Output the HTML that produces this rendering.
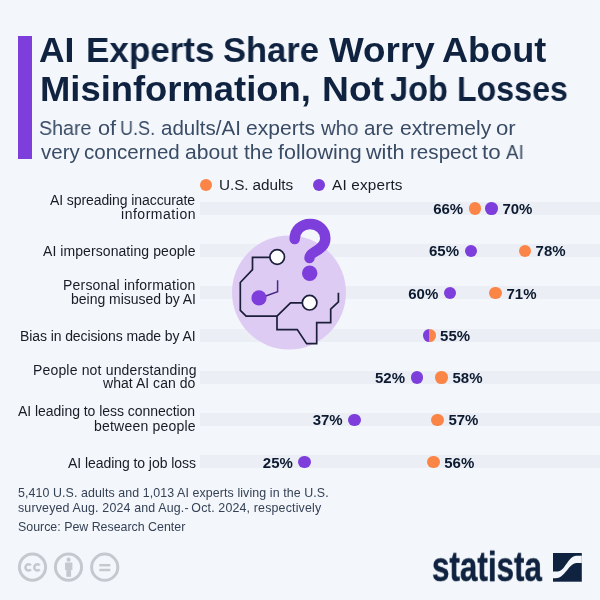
<!DOCTYPE html>
<html><head><meta charset="utf-8">
<style>
html,body{margin:0;padding:0;}
body{width:600px;height:600px;background:#f3f6fa;position:relative;overflow:hidden;font-family:"Liberation Sans",sans-serif;}
.a{position:absolute;white-space:nowrap;will-change:transform;}
.dot{position:absolute;width:12.6px;height:12.6px;border-radius:50%;}
.o{background:#fb8547;} .p{background:#7d3edb;}
.band{position:absolute;left:200px;width:400px;height:13px;background:#ebeff5;}
.v{position:absolute;font-weight:bold;font-size:15px;line-height:15px;letter-spacing:0px;color:#0c1a30;white-space:nowrap;}
</style></head><body>
<div class="a" style="left:18px;top:36px;width:14px;height:123px;background:#7d3edb"></div>
<div class="a" id="t1a" style="left:38.70px;top:31.92px;font-size:35.3px;line-height:35.3px;font-weight:bold;color:#0f2340;letter-spacing:0.000px;transform:scaleX(1.0036);transform-origin:0 0;">AI</div>
<div class="a" id="t1b" style="left:85.52px;top:31.92px;font-size:35.3px;line-height:35.3px;font-weight:bold;color:#0f2340;letter-spacing:0.000px;transform:scaleX(0.9929);transform-origin:0 0;">Experts</div>
<div class="a" id="t1c" style="left:223.38px;top:31.92px;font-size:35.3px;line-height:35.3px;font-weight:bold;color:#0f2340;letter-spacing:0.000px;transform:scaleX(0.9780);transform-origin:0 0;">Share</div>
<div class="a" id="t1d" style="left:328.79px;top:31.92px;font-size:35.3px;line-height:35.3px;font-weight:bold;color:#0f2340;letter-spacing:0.000px;transform:scaleX(1.0429);transform-origin:0 0;">Worry</div>
<div class="a" id="t1e" style="left:441.50px;top:31.92px;font-size:35.3px;line-height:35.3px;font-weight:bold;color:#0f2340;letter-spacing:0.000px;transform:scaleX(1.0235);transform-origin:0 0;">About</div>
<div class="a" id="t2a" style="left:40.13px;top:71.12px;font-size:35.3px;line-height:35.3px;font-weight:bold;color:#0f2340;letter-spacing:0.000px;transform:scaleX(1.0308);transform-origin:0 0;">Misinformation,</div>
<div class="a" id="t2b" style="left:321.75px;top:71.12px;font-size:35.3px;line-height:35.3px;font-weight:bold;color:#0f2340;letter-spacing:0.000px;transform:scaleX(1.0545);transform-origin:0 0;">Not</div>
<div class="a" id="t2c" style="left:389.61px;top:71.12px;font-size:35.3px;line-height:35.3px;font-weight:bold;color:#0f2340;letter-spacing:0.000px;transform:scaleX(0.9209);transform-origin:0 0;">Job</div>
<div class="a" id="t2d" style="left:457.10px;top:71.12px;font-size:35.3px;line-height:35.3px;font-weight:bold;color:#0f2340;letter-spacing:0.000px;transform:scaleX(0.9112);transform-origin:0 0;">Losses</div>
<div class="a" id="s10" style="left:39.37px;top:117.85px;font-size:20.5px;line-height:20.5px;color:#394b65;letter-spacing:0.000px;transform:scaleX(0.9582);transform-origin:0 0;">Share</div>
<div class="a" id="s11" style="left:97.50px;top:117.85px;font-size:20.5px;line-height:20.5px;color:#394b65;letter-spacing:0.000px;transform:scaleX(1.0605);transform-origin:0 0;">of</div>
<div class="a" id="s12" style="left:120.17px;top:117.85px;font-size:20.5px;line-height:20.5px;color:#394b65;letter-spacing:0.000px;transform:scaleX(0.8803);transform-origin:0 0;">U.S.</div>
<div class="a" id="s13" style="left:160.78px;top:117.85px;font-size:20.5px;line-height:20.5px;color:#394b65;letter-spacing:0.000px;transform:scaleX(1.0014);transform-origin:0 0;">adults/AI</div>
<div class="a" id="s14" style="left:245.80px;top:117.85px;font-size:20.5px;line-height:20.5px;color:#394b65;letter-spacing:0.000px;transform:scaleX(1.0277);transform-origin:0 0;">experts</div>
<div class="a" id="s15" style="left:320.68px;top:117.85px;font-size:20.5px;line-height:20.5px;color:#394b65;letter-spacing:0.000px;transform:scaleX(0.9921);transform-origin:0 0;">who</div>
<div class="a" id="s16" style="left:364.48px;top:117.85px;font-size:20.5px;line-height:20.5px;color:#394b65;letter-spacing:0.000px;transform:scaleX(1.0061);transform-origin:0 0;">are</div>
<div class="a" id="s17" style="left:399.61px;top:117.85px;font-size:20.5px;line-height:20.5px;color:#394b65;letter-spacing:0.000px;transform:scaleX(1.0260);transform-origin:0 0;">extremely</div>
<div class="a" id="s18" style="left:495.77px;top:117.85px;font-size:20.5px;line-height:20.5px;color:#394b65;letter-spacing:0.000px;transform:scaleX(1.0808);transform-origin:0 0;">or</div>
<div class="a" id="s20" style="left:40.69px;top:142.15px;font-size:20.5px;line-height:20.5px;color:#394b65;letter-spacing:0.000px;transform:scaleX(0.9882);transform-origin:0 0;">very</div>
<div class="a" id="s21" style="left:83.77px;top:142.15px;font-size:20.5px;line-height:20.5px;color:#394b65;letter-spacing:0.000px;transform:scaleX(0.9965);transform-origin:0 0;">concerned</div>
<div class="a" id="s22" style="left:184.73px;top:142.15px;font-size:20.5px;line-height:20.5px;color:#394b65;letter-spacing:0.000px;transform:scaleX(1.0279);transform-origin:0 0;">about</div>
<div class="a" id="s23" style="left:243.80px;top:142.15px;font-size:20.5px;line-height:20.5px;color:#394b65;letter-spacing:0.000px;transform:scaleX(1.0181);transform-origin:0 0;">the</div>
<div class="a" id="s24" style="left:277.63px;top:142.15px;font-size:20.5px;line-height:20.5px;color:#394b65;letter-spacing:0.000px;transform:scaleX(1.0493);transform-origin:0 0;">following</div>
<div class="a" id="s25" style="left:365.61px;top:142.15px;font-size:20.5px;line-height:20.5px;color:#394b65;letter-spacing:0.000px;transform:scaleX(1.0552);transform-origin:0 0;">with</div>
<div class="a" id="s26" style="left:409.60px;top:142.15px;font-size:20.5px;line-height:20.5px;color:#394b65;letter-spacing:0.000px;transform:scaleX(1.0052);transform-origin:0 0;">respect</div>
<div class="a" id="s27" style="left:482.23px;top:142.15px;font-size:20.5px;line-height:20.5px;color:#394b65;letter-spacing:0.000px;transform:scaleX(1.0904);transform-origin:0 0;">to</div>
<div class="a" id="s28" style="left:506.29px;top:142.15px;font-size:20.5px;line-height:20.5px;color:#394b65;letter-spacing:0.000px;transform:scaleX(0.9146);transform-origin:0 0;">AI</div>
<div class="a" id="leg1" style="left:219.25px;top:177.05px;font-size:15.3px;line-height:15.3px;color:#171c27;letter-spacing:-0.079px;">U.S. adults</div>
<div class="a" id="leg2" style="left:331.88px;top:177.05px;font-size:15.3px;line-height:15.3px;color:#171c27;letter-spacing:0.180px;">AI experts</div>
<div class="a" id="l1a" style="left:50.42px;top:193.15px;font-size:14px;line-height:14px;color:#171c27;letter-spacing:-0.091px;">AI spreading inaccurate</div>
<div class="a" id="l1b" style="left:121.18px;top:207.15px;font-size:14px;line-height:14px;color:#171c27;letter-spacing:0.527px;">information</div>
<div class="a" id="l2" style="left:42.58px;top:243.95px;font-size:14px;line-height:14px;color:#171c27;letter-spacing:0.073px;">AI impersonating people</div>
<div class="a" id="l3a" style="left:63.37px;top:278.15px;font-size:14px;line-height:14px;color:#171c27;letter-spacing:0.203px;">Personal information</div>
<div class="a" id="l3b" style="left:70.83px;top:292.05px;font-size:14px;line-height:14px;color:#171c27;letter-spacing:-0.017px;">being misused by AI</div>
<div class="a" id="l4" style="left:19.87px;top:328.55px;font-size:14px;line-height:14px;color:#171c27;letter-spacing:-0.098px;">Bias in decisions made by AI</div>
<div class="a" id="l5a" style="left:32.85px;top:362.75px;font-size:14px;line-height:14px;color:#171c27;letter-spacing:0.169px;">People not understanding</div>
<div class="a" id="l5b" style="left:103.21px;top:376.35px;font-size:14px;line-height:14px;color:#171c27;letter-spacing:0.039px;">what AI can do</div>
<div class="a" id="l6a" style="left:18.24px;top:404.25px;font-size:14px;line-height:14px;color:#171c27;letter-spacing:-0.039px;">AI leading to less connection</div>
<div class="a" id="l6b" style="left:93.99px;top:418.55px;font-size:14px;line-height:14px;color:#171c27;letter-spacing:0.211px;">between people</div>
<div class="a" id="l7" style="left:67.58px;top:455.55px;font-size:14px;line-height:14px;color:#171c27;letter-spacing:-0.062px;">AI leading to job loss</div>
<div class="a" id="f1" style="left:18.02px;top:487.00px;font-size:12.4px;line-height:12.4px;color:#354256;letter-spacing:0.098px;">5,410 U.S. adults and 1,013 AI experts living in the U.S.</div>
<div class="a" id="f2" style="left:17.99px;top:501.70px;font-size:12.4px;line-height:12.4px;color:#354256;letter-spacing:0.168px;">surveyed Aug. 2024 and Aug.- Oct. 2024, respectively</div>
<div class="a" id="f3" style="left:17.54px;top:520.70px;font-size:12.4px;line-height:12.4px;color:#354256;letter-spacing:-0.002px;">Source: Pew Research Center</div>
<div class="dot o" style="left:199.80px;top:178.70px"></div>
<div class="dot p" style="left:312.60px;top:178.70px"></div>
<div class="band" style="top:201.75px"></div>
<div class="band" style="top:244.00px"></div>
<div class="band" style="top:286.25px"></div>
<div class="band" style="top:328.50px"></div>
<div class="band" style="top:370.75px"></div>
<div class="band" style="top:413.00px"></div>
<div class="band" style="top:455.25px"></div>
<svg class="a" style="left:0;top:0" width="600" height="600" viewBox="0 0 600 600">
<circle cx="289" cy="292.5" r="57" fill="#ddcbf4"/>
<g fill="none" stroke="#1b1f3a" stroke-width="1.7" stroke-linejoin="miter">
<path d="M270 257.4 H252.5 V269.7 L240.3 282.5 V310.3 L246.1 316.2 H277 V329.6 H297.3 L306.6 343.6 H316.7 V322.6 H330.7 V309.2 L338.4 301.9 V292.8"/>
<path d="M277 316.2 L290.5 302.8 H302"/>
</g>
<path d="M277.6 280.2 V291.7 L263 297" fill="none" stroke="#4a2a86" stroke-width="1.5"/>
<circle cx="277.2" cy="257" r="7.3" fill="#fff" stroke="#1b1f3a" stroke-width="1.7"/>
<circle cx="309.6" cy="302.7" r="7.3" fill="#fff" stroke="#1b1f3a" stroke-width="1.7"/>
<circle cx="259" cy="297.9" r="7.6" fill="#7d3edb"/>
<path d="M294.7 239 C294.7 230 301.5 224 310 224 C318.5 224 325.3 230 325.3 238.5 C325.3 246 319 249.5 314.5 252 C311 254 309.5 255.5 309.5 258" fill="none" stroke="#7d3edb" stroke-width="10.5" stroke-linecap="round"/>
<circle cx="309.7" cy="273.3" r="7.7" fill="#7d3edb"/>
</svg>
<div class="dot o" style="left:468.66px;top:202.25px"></div>
<div class="dot p" style="left:485.28px;top:202.25px"></div>
<div class="v" style="right:136.84px;top:201.15px;text-align:right">66%</div>
<div class="v" style="left:502.38px;top:201.15px">70%</div>
<div class="dot p" style="left:464.51px;top:244.50px"></div>
<div class="dot o" style="left:518.51px;top:244.50px"></div>
<div class="v" style="right:140.99px;top:243.40px;text-align:right">65%</div>
<div class="v" style="left:535.61px;top:243.40px">78%</div>
<div class="dot p" style="left:443.74px;top:286.75px"></div>
<div class="dot o" style="left:489.43px;top:286.75px"></div>
<div class="v" style="right:161.76px;top:285.65px;text-align:right">60%</div>
<div class="v" style="left:506.53px;top:285.65px">71%</div>
<div class="dot" style="left:422.97px;top:329.00px;background:linear-gradient(90deg,#7d3edb 50%,#fb8547 50%)"></div>
<div class="v" style="left:440.07px;top:327.90px">55%</div>
<div class="dot p" style="left:410.51px;top:371.25px"></div>
<div class="dot o" style="left:435.43px;top:371.25px"></div>
<div class="v" style="right:194.99px;top:370.15px;text-align:right">52%</div>
<div class="v" style="left:452.53px;top:370.15px">58%</div>
<div class="dot p" style="left:348.20px;top:413.50px"></div>
<div class="dot o" style="left:431.28px;top:413.50px"></div>
<div class="v" style="right:257.30px;top:412.40px;text-align:right">37%</div>
<div class="v" style="left:448.38px;top:412.40px">57%</div>
<div class="dot p" style="left:298.35px;top:455.75px"></div>
<div class="dot o" style="left:427.12px;top:455.75px"></div>
<div class="v" style="right:307.15px;top:454.65px;text-align:right">25%</div>
<div class="v" style="left:444.22px;top:454.65px">56%</div>
<svg class="a" style="left:0;top:540px" width="140" height="60" viewBox="0 540 140 60">
<g fill="none" stroke="#c5c9cf" stroke-width="3"><circle cx="32.5" cy="567.1" r="13.1"/><circle cx="68.5" cy="567.1" r="13.1"/><circle cx="104.7" cy="567.2" r="13.1"/></g>
<path d="M30.90 565.33 A3.1 3.1 0 1 0 30.90 569.47" fill="none" stroke="#c5c9cf" stroke-width="2.6"/>
<path d="M39.70 565.33 A3.1 3.1 0 1 0 39.70 569.47" fill="none" stroke="#c5c9cf" stroke-width="2.6"/>
<circle cx="68.6" cy="559.7" r="2.1" fill="#c5c9cf"/><rect x="65" y="562.5" width="7.4" height="7.4" fill="#c5c9cf"/><rect x="66.3" y="569.5" width="4.8" height="7.3" fill="#c5c9cf"/>
<rect x="99.3" y="564" width="11" height="2.4" fill="#c5c9cf"/><rect x="99.3" y="568.8" width="11" height="2.4" fill="#c5c9cf"/>
</svg>
<div class="a" style="left:432.2px;top:545.11px;font-size:45px;line-height:45px;font-weight:bold;color:#0f2340;-webkit-text-stroke:0.5px #0f2340;transform:scale(0.698,0.95);transform-origin:0 0">statista</div>
<svg class="a" style="left:553px;top:553px" width="29" height="29" viewBox="0 0 29 29">
<rect width="28.8" height="28.7" fill="#0f2340"/>
<path d="M0 18.5 H4.7 C12 18.5 15 2.7 23.4 2.7 H28.8 V10 H23.4 C16 10 12 25.3 2.4 25.3 H0 Z" fill="#f3f6fa"/>
</svg>
</body></html>
